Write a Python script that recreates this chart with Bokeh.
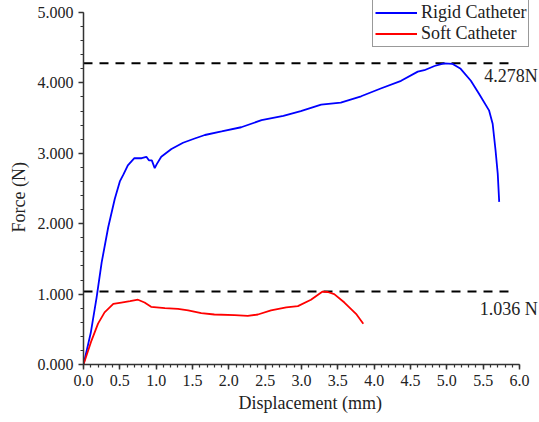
from bokeh.plotting import figure
from bokeh.models import (Range1d, SingleIntervalTicker, PrintfTickFormatter,
                          Legend, LegendItem, Label, Title)
from bokeh.embed import file_html
from bokeh.resources import INLINE

# Force-displacement curves of the two catheters
rigid_x = [0.0, 0.1, 0.18, 0.25, 0.34, 0.43, 0.5, 0.55, 0.61, 0.7, 0.8, 0.865,
           0.9, 0.94, 0.98, 1.01, 1.07, 1.21, 1.37, 1.53, 1.67, 1.9, 2.17, 2.45,
           2.75, 2.99, 3.27, 3.54, 3.82, 4.09, 4.37, 4.6, 4.69, 4.83, 4.96, 5.08,
           5.19, 5.33, 5.44, 5.58, 5.63, 5.67, 5.7, 5.72]
rigid_y = [0.0, 0.45, 0.95, 1.45, 1.95, 2.35, 2.6, 2.7, 2.83, 2.93, 2.93, 2.95,
           2.9, 2.9, 2.79, 2.85, 2.95, 3.06, 3.15, 3.21, 3.26, 3.31, 3.37, 3.47,
           3.53, 3.6, 3.69, 3.72, 3.81, 3.92, 4.03, 4.16, 4.18, 4.24, 4.278, 4.27,
           4.2, 4.03, 3.85, 3.61, 3.42, 3.04, 2.71, 2.31]

soft_x = [0.0, 0.11, 0.2, 0.29, 0.41, 0.52, 0.64, 0.75, 0.84, 0.93, 1.12, 1.3,
          1.44, 1.62, 1.8, 2.08, 2.26, 2.4, 2.58, 2.79, 2.95, 3.13, 3.29, 3.36,
          3.45, 3.59, 3.75, 3.85]
soft_y = [0.0, 0.34, 0.58, 0.74, 0.86, 0.88, 0.9, 0.92, 0.88, 0.82, 0.8, 0.79,
          0.77, 0.73, 0.71, 0.7, 0.69, 0.71, 0.77, 0.81, 0.83, 0.92, 1.036, 1.03,
          1.0, 0.88, 0.72, 0.58]

rigid_peak = 4.278
soft_peak = 1.036
peak_labels = ["4.278N", "1.036 N"]
peak_line_end = 5.92
x_title = "Displacement (mm)"
y_title = "Force (N)"

FONT = "Liberation Serif"
INK = "#222222"

# The frame runs to the right and top edges so that the legend and the
# peak labels are not clipped; the axes themselves stop at 6 mm and 5 N.
X_MAX, Y_MAX = 6.0, 5.0
p = figure(width=539, height=422, output_backend="svg", toolbar_location=None,
           x_range=Range1d(0, X_MAX * 457 / 437), y_range=Range1d(0, Y_MAX * 364 / 352),
           min_border_left=82, min_border_right=0,
           min_border_top=0, min_border_bottom=58)
p.outline_line_color = None
p.background_fill_color = "white"
p.border_fill_color = "white"
p.xgrid.visible = False
p.ygrid.visible = False
p.xaxis.bounds = (0, X_MAX)
p.yaxis.bounds = (0, Y_MAX)

p.xaxis.ticker = SingleIntervalTicker(interval=0.5, num_minor_ticks=5)
p.yaxis.ticker = SingleIntervalTicker(interval=1, num_minor_ticks=5)
p.xaxis.formatter = PrintfTickFormatter(format="%.1f")
p.yaxis.formatter = PrintfTickFormatter(format="%.3f")

for ax in (p.xaxis, p.yaxis):
    ax.axis_line_color = "#333333"
    ax.axis_line_width = 1.5
    ax.major_tick_line_color = "#333333"
    ax.minor_tick_line_color = "#333333"
    ax.major_tick_line_width = 1.5
    ax.minor_tick_line_width = 1.2
    ax.major_tick_out = 5
    ax.major_tick_in = 0
    ax.minor_tick_out = 3
    ax.minor_tick_in = 0
    ax.major_label_text_font = FONT
    ax.major_label_text_font_size = "16px"
    ax.major_label_text_color = INK
p.xaxis.major_label_standoff = 5
p.yaxis.major_label_standoff = 5

# Axis titles as panel titles, placed by an offset along each axis
p.add_layout(Title(text=x_title, align="left", offset=155, standoff=5,
                   text_font=FONT, text_font_size="18px",
                   text_font_style="normal", text_color=INK), "below")
p.add_layout(Title(text=y_title, align="left", offset=132, standoff=12,
                   text_font=FONT, text_font_size="18px",
                   text_font_style="normal", text_color=INK), "left")

# Peak reference lines
p.line([0, peak_line_end], [rigid_peak, rigid_peak], line_color="black",
       line_width=2, line_dash="9 7")
p.line([0, peak_line_end], [soft_peak, soft_peak], line_color="black",
       line_width=2, line_dash="9 7")

r_rigid = p.line(rigid_x, rigid_y, line_color="#0000ff", line_width=1.8)
r_soft = p.line(soft_x, soft_y, line_color="#ff0000", line_width=1.8)

p.add_layout(Label(x=6.25, y=rigid_peak, y_offset=-13, text=peak_labels[0],
                   text_align="right", text_baseline="middle",
                   text_font=FONT, text_font_size="18px", text_color=INK))
p.add_layout(Label(x=6.25, y=soft_peak, y_offset=-17, text=peak_labels[1],
                   text_align="right", text_baseline="middle",
                   text_font=FONT, text_font_size="18px", text_color=INK))

legend = Legend(items=[LegendItem(label="Rigid Catheter", renderers=[r_rigid]),
                       LegendItem(label="Soft Catheter", renderers=[r_soft])],
                location=(289, 317), orientation="vertical",
                label_text_font=FONT, label_text_font_size="18px",
                label_text_color=INK, glyph_width=42, glyph_height=21,
                label_height=21, label_standoff=4, spacing=-2, padding=2,
                margin=0, border_line_color="#333333", border_line_width=1,
                background_fill_color="white", background_fill_alpha=1)
p.add_layout(legend, "center")

open("out.html", "w").write(file_html(p, INLINE))
